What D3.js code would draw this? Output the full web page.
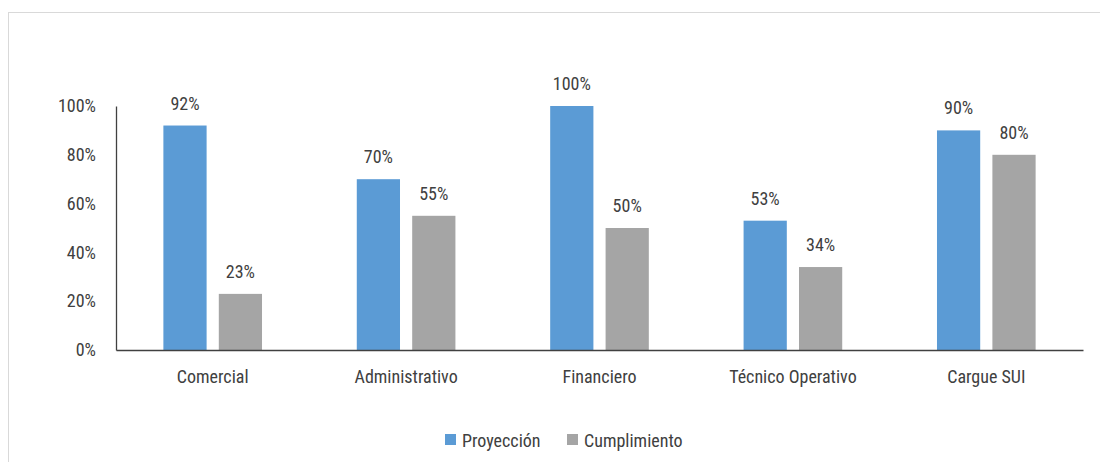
<!DOCTYPE html>
<html><head><meta charset="utf-8">
<script src="https://cdn.jsdelivr.net/npm/d3@7"></script>
<style>
html,body{margin:0;padding:0;background:#fff;}
svg text{font-family:"Roboto Condensed","Liberation Sans Narrow","Arial Narrow",Roboto,sans-serif;font-stretch:condensed;}
</style></head>
<body>
<svg id="c" width="1100" height="462"></svg>
<script>
const categories = ["Comercial","Administrativo","Financiero","Técnico Operativo","Cargue SUI"];
const seriesNames = ["Proyección","Cumplimiento"];
const proyeccion = [92,70,100,53,90];
const cumplimiento = [23,55,50,34,80];
const yTicks = [0,20,40,60,80,100];
const colors = ["#5B9BD5","#A5A5A5"];
const FS = 18;

const svg = d3.select("#c");
svg.append("rect").attr("x",8.5).attr("y",12.5).attr("width",1100).attr("height",470)
  .attr("fill","none").attr("stroke","#d9d9d9");

const x0 = d3.scaleBand().domain(categories).range([116,1083]).paddingInner(0.49).paddingOuter(0.245);
const x1 = d3.scaleBand().domain(seriesNames).range([0,x0.bandwidth()]).paddingInner(0.22);
const y = d3.scaleLinear().domain([0,100]).range([350,106]);

const data = [proyeccion, cumplimiento];

// y axis labels
const yAxis = svg.append("g").attr("transform","translate(116,0)")
  .call(d3.axisLeft(y).tickValues(yTicks).tickFormat(d=>d+"%").tickSize(0).tickPadding(20));
yAxis.select(".domain").attr("stroke","#404040").attr("stroke-width",1.3);
yAxis.selectAll("text").attr("font-size",FS).attr("fill","#404040");

// bars
seriesNames.forEach((s,si)=>{
  const g = svg.append("g");
  g.selectAll("rect").data(categories).join("rect")
    .attr("x",c=>x0(c)+x1(s))
    .attr("y",(c,i)=>y(data[si][i]))
    .attr("width",x1.bandwidth())
    .attr("height",(c,i)=>y(0)-y(data[si][i]))
    .attr("fill",colors[si]);
  g.selectAll("text").data(categories).join("text")
    .attr("x",c=>x0(c)+x1(s)+x1.bandwidth()/2)
    .attr("y",(c,i)=>y(data[si][i])-16)
    .attr("text-anchor","middle").attr("font-size",FS).attr("fill","#404040")
    .text((c,i)=>data[si][i]+"%");
});

// x axis
const xAxis = svg.append("g").attr("transform","translate(0,350)")
  .call(d3.axisBottom(x0).tickSize(0).tickPadding(20).tickSizeOuter(0));
xAxis.select(".domain").attr("stroke","#404040").attr("stroke-width",1.3);
xAxis.selectAll("text").attr("font-size",FS).attr("fill","#404040");

// legend
const legend = svg.append("g");
const lx = [445,567];
seriesNames.forEach((s,i)=>{
  legend.append("rect").attr("x",lx[i]).attr("y",434).attr("width",11).attr("height",11).attr("fill",colors[i]);
  legend.append("text").attr("x",lx[i]+17).attr("y",446.5).attr("font-size",FS).attr("fill","#404040").text(s);
});
</script>
</body></html>
